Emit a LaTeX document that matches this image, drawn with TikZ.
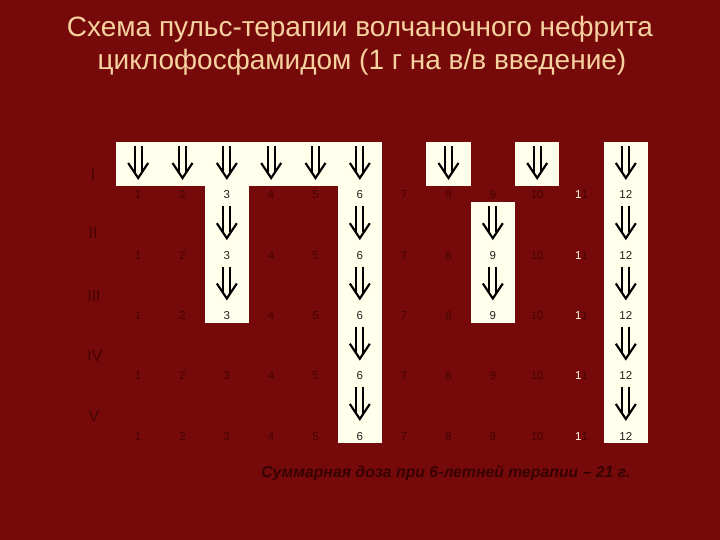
\documentclass[tikz,border=0pt]{standalone}
\usepackage{fontspec}
\setmainfont{Liberation Sans}
\definecolor{bg}{RGB}{118,10,10}
\definecolor{cream}{RGB}{255,255,236}
\definecolor{titlec}{RGB}{246,210,160}
\definecolor{dimtext}{RGB}{70,3,3}
\definecolor{ontext}{RGB}{40,30,30}
\definecolor{sumc}{RGB}{55,2,2}
\begin{document}
\begin{tikzpicture}[x=1pt,y=-1pt,
  cell/.style={fill=cream,draw=none},
  num/.style={font=\fontsize{11.5}{11.5}\selectfont,text=dimtext,inner sep=0pt,anchor=base},
  numon/.style={num,text=ontext},
  arr/.style={line width=2.1pt,draw=black,line join=miter},
  rowlab/.style={font=\fontsize{16}{16}\selectfont,text=dimtext,inner sep=0pt},
  titletext/.style={font=\fontsize{28}{28}\selectfont,text=titlec,anchor=base,inner sep=0pt},
  sumtext/.style={font=\fontsize{15.8}{15.8}\selectfont\bfseries\itshape,text=sumc,anchor=base,inner sep=0pt}]
\fill[bg] (0,0) rectangle (720,540);
\useasboundingbox (0,0) rectangle (720,540);
% title
\node[titletext] (t1) at (360,37) {Схема пульс-терапии волчаночного нефрита};
\node[titletext] (t2) at (362,70) {циклофосфамидом (1 г на в/в введение)};
% cream cells
\fill[cell] (116,142) rectangle (382,186.5);
\fill[cell] (204.67,186) rectangle (249,322.75);
\fill[cell] (337.67,142) rectangle (382,443);
\fill[cell] (426.33,142) rectangle (470.67,186.5);
\fill[cell] (470.67,202.25) rectangle (515,322.75);
\fill[cell] (515,142) rectangle (559.33,186.5);
\fill[cell] (603.67,142) rectangle (648,443);
% arrows
\foreach \c/\r in {1/0,2/0,3/0,4/0,5/0,6/0,8/0,10/0,12/0,
                   3/1,6/1,9/1,12/1,
                   3/2,6/2,9/2,12/2,
                   6/3,12/3,
                   6/4,12/4}{
  \pgfmathsetmacro\cx{116+44.333*(\c-0.5)}
  \pgfmathsetmacro\ty{142+60.25*\r}
  \draw[arr] (\cx-3.5,\ty+4) -- (\cx-3.5,\ty+30);
  \draw[arr] (\cx+3.5,\ty+4) -- (\cx+3.5,\ty+30);
  \draw[arr] (\cx-10,\ty+21) -- (\cx,\ty+36) -- (\cx+10,\ty+21);
}
% numbers
\foreach \r in {0,...,4}{
  \foreach \c in {1,...,12}{
    \pgfmathsetmacro\cx{116+44.333*(\c-0.5)}
    \pgfmathsetmacro\ny{142+60.25*\r+57}
    \pgfmathtruncatemacro\on{((\c==6)||(\c==12)||((\c==3)&&(\r<3))||((\c==9)&&(\r>0)&&(\r<3)))?1:0}
    \ifnum\c=11
      \node[num] (n\r-\c) at (\cx,\ny) {\textcolor{cream}{1}1};
    \else
      \ifnum\on=1
        \node[numon] (n\r-\c) at (\cx,\ny) {\c};
      \else
        \node[num] (n\r-\c) at (\cx,\ny) {\c};
      \fi
    \fi
  }
}
% row labels
\node[rowlab] (lI) at (93,175) {I};
\node[rowlab] (lII) at (93,233) {II};
\node[rowlab] (lIII) at (94,296) {III};
\node[rowlab] (lIV) at (95,356) {IV};
\node[rowlab] (lV) at (94,416) {V};
% summary
\node[sumtext] (sum) at (446,477) {Суммарная доза при 6-летней терапии – 21 г.};
\end{tikzpicture}
\end{document}
